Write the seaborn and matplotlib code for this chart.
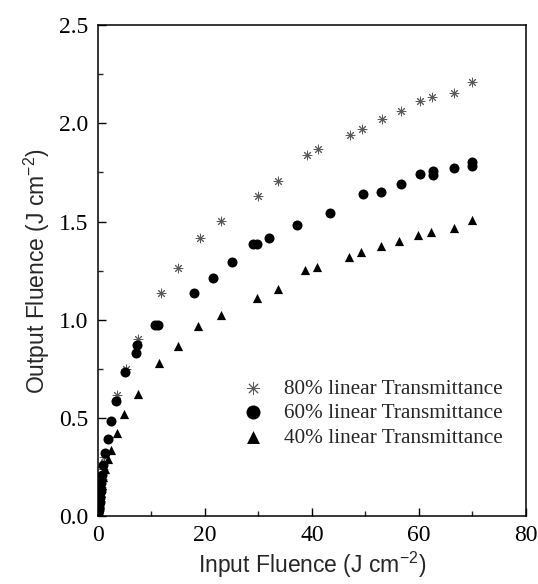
import matplotlib
matplotlib.use("Agg")
import matplotlib.pyplot as plt
import seaborn as sns
import numpy as np
import pandas as pd
from matplotlib.ticker import MultipleLocator, FormatStrFormatter

# ---- data ----
x80 = [0.08, 0.15, 0.25, 0.35, 0.45, 0.55, 0.7, 0.9, 1.2, 3.6, 5.2, 7.5, 11.7, 15.0,
       19.0, 23.1, 30.0, 33.7, 39.0, 41.1, 47.2, 49.3, 53.1, 56.6, 60.2, 62.4, 66.5, 70.0]
y80 = [0.015, 0.035, 0.06, 0.09, 0.12, 0.15, 0.19, 0.24, 0.30, 0.616, 0.752, 0.900, 1.134, 1.266,
       1.417, 1.501, 1.629, 1.706, 1.840, 1.867, 1.940, 1.970, 2.020, 2.062, 2.113, 2.132, 2.155, 2.211]

x60 = [0.06, 0.12, 0.2, 0.3, 0.4, 0.5, 0.65, 0.8, 1.0, 1.3, 1.9, 2.5, 3.4, 5.15, 7.2, 7.3,
       10.7, 11.3, 17.9, 21.5, 25.1, 28.9, 29.7, 31.9, 37.3, 43.4, 49.5, 53.0, 56.6, 60.2,
       62.6, 62.6, 66.5, 70.0, 70.0]
y60 = [0.012, 0.03, 0.05, 0.075, 0.10, 0.13, 0.17, 0.21, 0.26, 0.32, 0.395, 0.485, 0.585, 0.733,
       0.83, 0.87, 0.975, 0.975, 1.134, 1.213, 1.293, 1.388, 1.388, 1.417, 1.485, 1.546, 1.640,
       1.653, 1.692, 1.740, 1.735, 1.755, 1.772, 1.785, 1.805]

x40 = [0.1, 0.2, 0.3, 0.45, 0.6, 0.8, 1.0, 1.3, 1.8, 2.5, 3.6, 4.9, 7.4, 11.5, 14.9, 18.7,
       23.1, 29.8, 33.6, 38.8, 41.0, 47.0, 49.2, 53.0, 56.3, 59.9, 62.3, 66.5, 70.0]
y40 = [0.02, 0.04, 0.06, 0.09, 0.12, 0.16, 0.20, 0.24, 0.29, 0.336, 0.426, 0.523, 0.620, 0.781,
       0.867, 0.966, 1.023, 1.112, 1.159, 1.256, 1.269, 1.320, 1.346, 1.375, 1.400, 1.434,
       1.448, 1.465, 1.507]

labels = ["80% linear Transmittance", "60% linear Transmittance", "40% linear Transmittance"]
x_ticks = [0, 20, 40, 60, 80]
y_ticks = [0.0, 0.5, 1.0, 1.5, 2.0, 2.5]

# ---- style ----
sns.set_style("ticks")
plt.rcParams["font.family"] = ["Liberation Serif", "DejaVu Serif"]
plt.rcParams["mathtext.default"] = "regular"
plt.rcParams["xtick.direction"] = "in"
plt.rcParams["ytick.direction"] = "in"

fig = plt.figure(figsize=(5.38, 5.84), dpi=100)
ax = fig.add_axes([0.182, 0.116, 0.7955, 0.841])

df80 = pd.DataFrame({"x": x80, "y": y80})
df60 = pd.DataFrame({"x": x60, "y": y60})
df40 = pd.DataFrame({"x": x40, "y": y40})

sns.scatterplot(data=df80, x="x", y="y", ax=ax, marker=(8, 2, 0), s=40,
                color="0.35", linewidth=0.7, label=labels[0])
sns.scatterplot(data=df60, x="x", y="y", ax=ax, marker="o", s=52,
                color="black", edgecolor="black", linewidth=0, label=labels[1])
sns.scatterplot(data=df40, x="x", y="y", ax=ax, marker="^", s=44,
                color="black", edgecolor="black", linewidth=0, label=labels[2])

ax.set_xlim(0, 80)
ax.set_ylim(0, 2.5)
ax.set_xticks(x_ticks)
ax.set_yticks(y_ticks)
ax.xaxis.set_minor_locator(MultipleLocator(10))
ax.yaxis.set_minor_locator(MultipleLocator(0.25))
ax.yaxis.set_major_formatter(FormatStrFormatter("%.1f"))
ax.xaxis.set_major_formatter(FormatStrFormatter("%d"))
ax.tick_params(which="major", length=6, width=1.0, labelsize=17, top=False, right=False,
               colors="black")
ax.tick_params(axis="x", which="major", pad=6)
ax.tick_params(axis="y", which="major", pad=7)
ax.tick_params(which="minor", length=3.5, width=1.0, top=False, right=False)
for sp in ax.spines.values():
    sp.set_linewidth(1.1)
    sp.set_color("black")

ax.set_xlabel("Input Fluence (J cm$^{-2}$)", family="Liberation Sans", fontsize=16.5, labelpad=3)
ax.set_ylabel("Output Fluence (J cm$^{-2}$)", family="Liberation Sans", fontsize=16.5, labelpad=5)

leg = ax.legend(loc="center left", bbox_to_anchor=(0.313, 0.210), frameon=False,
                prop={"family": "Liberation Serif", "size": 15.3}, borderpad=0,
                handlelength=1.0, handletextpad=0.94, labelspacing=0.22, markerscale=1.4)

fig.savefig("out.png", dpi=100, facecolor="white")
